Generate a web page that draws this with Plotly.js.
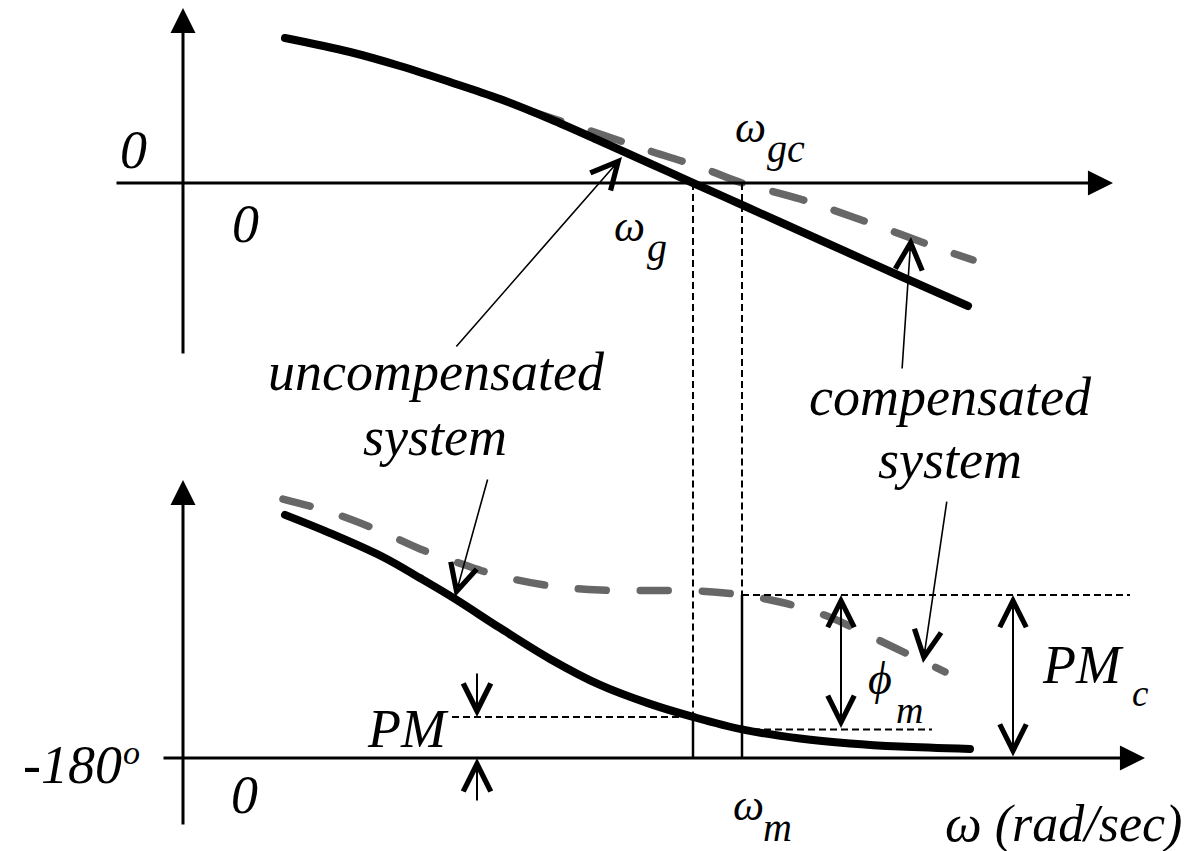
<!DOCTYPE html>
<html>
<head>
<meta charset="utf-8">
<script src="https://cdn.plot.ly/plotly-3.0.1.min.js"></script>
<style>
  html, body { margin: 0; padding: 0; background: #fff; }
  #chart .scatterlayer path.js-line { stroke-linecap: round; stroke-linejoin: round; }
</style>
</head>
<body>
<div id="chart"></div>
<script>
// Bode sketch of a phase-lead design: magnitude (top) and phase (bottom)
// against a schematic frequency scale.

// Frequency samples and magnitude (schematic dB)
const omegaMag   = [1.02, 1.67, 2.17, 2.67, 3.17, 3.67, 4.17, 4.67, 5.10, 5.67, 6.17, 6.67, 7.17, 7.85];
const magUncomp  = [29.0, 26.2, 23.4, 20.2, 16.8, 12.8, 8.4, 3.9, 0.0, -5.1, -9.6, -14.1, -18.6, -24.6];
const omegaMagC  = [3.47, 4.17, 4.67, 5.17, 5.59, 6.17, 6.67, 7.17, 7.52, 7.90];
const magComp    = [14.4, 9.8, 6.4, 3.2, 0.0, -3.2, -6.6, -10.2, -12.8, -15.4];

// Frequency samples and phase (degrees)
const omegaPh    = [1.02, 1.47, 2.00, 2.37, 2.72, 3.17, 3.67, 4.17, 4.67, 5.10, 5.59, 6.17, 6.67, 7.17, 7.87];
const phaseUncomp= [-86.5, -93.5, -102.7, -110.8, -118.8, -130.0, -141.9, -151.9, -159.2, -164.2, -169.0, -172.5, -174.4, -175.6, -176.5];
const omegaPhC   = [1.00, 1.47, 1.97, 2.37, 2.82, 3.17, 3.67, 4.17, 4.67, 5.17, 5.59, 5.97, 6.44, 6.87, 7.27, 7.62];
const phaseComp  = [-80.4, -85.4, -92.7, -99.6, -105.8, -110.0, -113.8, -115.4, -115.6, -115.8, -117.3, -120.0, -125.4, -133.1, -140.4, -146.9];

// Crossover frequencies: uncompensated (omega_g) and compensated (omega_gc = omega_m)
const omegaG  = 5.10;
const omegaGC = 5.59;

// Margins at the crossovers
const pmLevel     = phaseUncomp[omegaPh.indexOf(omegaG)];   // PM  = pmLevel + 180
const pmcLevel    = phaseComp[omegaPhC.indexOf(omegaGC)];   // PMc = pmcLevel + 180
const phiLowLevel = phaseUncomp[omegaPh.indexOf(omegaGC)];  // phi_m = pmcLevel - phiLowLevel

const W = 1197, H = 851;
const X_RANGE   = [-1.83, 10.14];
const MAG_RANGE = [-48.5, 36.6];
const PH_RANGE  = [-215.77, -52.12];

const BLACK = '#000000';
const GREY  = '#676767';
const FONT  = 'Liberation Serif, Times New Roman, serif';

const traces = [
  { x: omegaMagC, y: magComp, xaxis: 'x', yaxis: 'y', mode: 'lines',
    line: { color: GREY, width: 7.5, dash: '32px,32px', shape: 'spline', smoothing: 1 }, hoverinfo: 'skip' },
  { x: omegaMag, y: magUncomp, xaxis: 'x', yaxis: 'y', mode: 'lines',
    line: { color: BLACK, width: 8, shape: 'spline', smoothing: 1 }, hoverinfo: 'skip' },
  { x: omegaPhC, y: phaseComp, xaxis: 'x', yaxis: 'y2', mode: 'lines',
    line: { color: GREY, width: 7.5, dash: '28px,34px', shape: 'spline', smoothing: 1 }, hoverinfo: 'skip' },
  { x: omegaPh, y: phaseUncomp, xaxis: 'x', yaxis: 'y2', mode: 'lines',
    line: { color: BLACK, width: 8, shape: 'spline', smoothing: 1 }, hoverinfo: 'skip' }
];

function vline(x, y0, y1, yref, dash, width) {
  return { type: 'line', xref: 'x', yref: yref, x0: x, x1: x, y0: y0, y1: y1,
           line: { color: BLACK, width: width || 2, dash: dash || 'solid' } };
}
function hline(x0, x1, y, yref, dash, width) {
  return { type: 'line', xref: 'x', yref: yref, x0: x0, x1: x1, y0: y, y1: y,
           line: { color: BLACK, width: width || 2, dash: dash || 'solid' } };
}
const DASH = '7px,4px';

const shapes = [
  // omega_g drop line: magnitude crossover down to the phase axis
  vline(omegaG, 0, MAG_RANGE[0], 'y', DASH),
  vline(omegaG, PH_RANGE[1], pmLevel, 'y2', DASH),
  vline(omegaG, pmLevel, -180, 'y2', 'solid', 2.5),
  // omega_gc drop line
  vline(omegaGC, 0, MAG_RANGE[0], 'y', DASH),
  vline(omegaGC, PH_RANGE[1], pmcLevel, 'y2', DASH),
  vline(omegaGC, pmcLevel, -180, 'y2', 'solid', 2.5),
  // reference levels
  hline(2.69, omegaG, pmLevel, 'y2', DASH),
  hline(omegaGC, 7.49, phiLowLevel, 'y2', DASH),
  hline(omegaGC, 9.47, pmcLevel, 'y2', DASH)
];

function arrow(x, y, ax, ay, yref, opts) {
  return Object.assign({ x: x, y: y, ax: ax, ay: ay, xref: 'x', yref: yref, axref: 'x', ayref: yref,
    text: '', showarrow: true, arrowcolor: BLACK, standoff: 0, startstandoff: 0 }, opts);
}
const AXIS = { arrowhead: 2, arrowsize: 1.67, arrowwidth: 3 };
const POINTER = { arrowhead: 5, arrowsize: 3.3, arrowwidth: 1.6 };
const DOUBLE = { arrowhead: 5, startarrowhead: 5, arrowsize: 2.6, startarrowsize: 2.6, arrowwidth: 2, arrowside: 'end+start' };
const SINGLE = { arrowhead: 5, arrowsize: 2.7, arrowwidth: 2 };

function label(text, px, py, size, xanchor) {
  return { text: text, xref: 'paper', yref: 'paper', x: px / W, y: 1 - py / H,
    xanchor: xanchor || 'center', yanchor: 'middle', showarrow: false,
    font: { family: FONT, size: size, color: BLACK, style: 'italic' } };
}

const annotations = [
  // axes
  arrow(9.30, 0, -0.68, 0, 'y', AXIS),
  arrow(0, 35.0, 0, -34.4, 'y', AXIS),
  arrow(9.62, -180, -0.21, -180, 'y2', AXIS),
  arrow(0, -73.1, 0, -206.2, 'y2', AXIS),
  // pointers to the curves
  arrow(4.39, 5.2, 2.72, -33.0, 'y', POINTER),
  arrow(2.72, -118.1, 3.05, -72.3, 'y2', POINTER),
  arrow(7.28, -10.8, 7.19, -37.4, 'y', POINTER),
  arrow(7.40, -143.5, 7.64, -80.8, 'y2', POINTER),
  // margins
  arrow(6.58, pmcLevel, 6.58, phiLowLevel, 'y2', DOUBLE),
  arrow(8.30, pmcLevel, 8.30, -180, 'y2', DOUBLE),
  arrow(2.94, pmLevel, 2.94, -146.9, 'y2', SINGLE),
  arrow(2.94, -180, 2.94, -196.9, 'y2', SINGLE),
  // text
  label('0', 133, 150, 54),
  label('0', 245, 224, 54),
  label('ω', 750, 127, 44),
  label('gc', 765, 148, 40, 'left'),
  label('ω', 629, 227, 44),
  label('g', 645, 248, 40, 'left'),
  label('uncompensated', 436, 372, 54),
  label('system', 435, 437, 54),
  label('compensated', 950, 397, 54),
  label('system', 950, 460, 54),
  label('-180', 124, 765, 54, 'right'),
  label('o', 131, 752, 34),
  label('0', 244, 795, 54),
  label('PM', 451, 729, 54, 'right'),
  label('ϕ', 880, 678, 46),
  label('m', 894, 710, 38, 'left'),
  label('PM', 1040, 665, 54, 'left'),
  label('c', 1130, 693, 37, 'left'),
  label('ω', 748, 805, 44),
  label('m', 761, 827, 40, 'left'),
  label('ω (rad/sec)', 1063, 824, 52)
];

const layout = {
  width: W, height: H,
  margin: { l: 0, r: 0, t: 0, b: 0 },
  paper_bgcolor: '#ffffff', plot_bgcolor: '#ffffff',
  showlegend: false,
  xaxis:  { range: X_RANGE, domain: [0, 1], visible: false, fixedrange: true },
  yaxis:  { range: MAG_RANGE, domain: [0.5, 1], visible: false, anchor: 'x', fixedrange: true },
  yaxis2: { range: PH_RANGE, domain: [0, 0.5], visible: false, anchor: 'x', fixedrange: true },
  shapes: shapes,
  annotations: annotations
};

Plotly.newPlot('chart', traces, layout, { staticPlot: true, displayModeBar: false });
</script>
</body>
</html>
